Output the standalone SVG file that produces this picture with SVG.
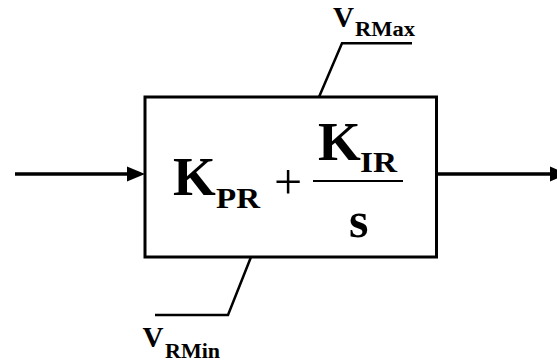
<svg xmlns="http://www.w3.org/2000/svg" width="557" height="364" viewBox="0 0 557 364">
<style>
.ln{fill:none;stroke:#000;stroke-width:3.5}
.lim{fill:none;stroke:#000;stroke-width:2.5}
.ah{fill:#000;stroke:none}
.t{font-family:"Liberation Serif","Times New Roman",serif;font-weight:bold;fill:#000}
.p{font-family:"Liberation Serif","Times New Roman",serif;font-weight:normal;fill:#000}
</style>
<rect width="557" height="364" fill="#fff"/>
<g id="connectors">
<line class="ln" x1="15" y1="174" x2="130" y2="174"/>
<polygon class="ah" points="127,166.5 145,174 127,181.5"/>
<line class="ln" x1="437" y1="174" x2="552" y2="174"/>
<polygon class="ah" points="550,166.5 568,174 550,181.5"/>
<polyline class="lim" points="319,97 342,43.3 412,43.3"/>
<polyline class="lim" points="251,257 228,315 155,315"/>
</g>
<g id="block">
<rect x="145" y="97" width="291.5" height="160" fill="#fff" stroke="#000" stroke-width="3"/>
<text class="t" x="173" y="195" font-size="55">K</text>
<text class="t" x="216" y="208" font-size="30" textLength="44" lengthAdjust="spacingAndGlyphs">PR</text>
<text class="p" x="274" y="199" font-size="50">+</text>
<line x1="313" y1="181" x2="403" y2="181" stroke="#000" stroke-width="2"/>
<text class="t" x="318" y="160" font-size="55">K</text>
<text class="t" x="360" y="172" font-size="29" textLength="37" lengthAdjust="spacingAndGlyphs">IR</text>
<text class="t" x="349" y="236.5" font-size="50">s</text>
</g>
<g id="vrmax">
<text class="t" x="333" y="27" font-size="29" textLength="21" lengthAdjust="spacingAndGlyphs">V</text>
<text class="t" x="355" y="36" font-size="20" textLength="60" lengthAdjust="spacingAndGlyphs">RMax</text>
</g>
<g id="vrmin">
<text class="t" x="142.5" y="347" font-size="29" textLength="21" lengthAdjust="spacingAndGlyphs">V</text>
<text class="t" x="165" y="357.5" font-size="20" textLength="55" lengthAdjust="spacingAndGlyphs">RMin</text>
</g>
</svg>
